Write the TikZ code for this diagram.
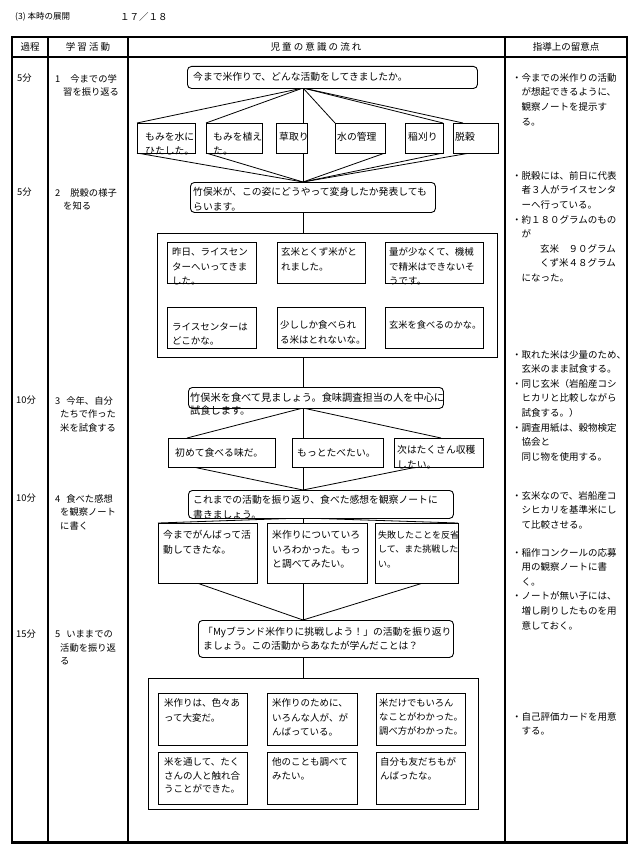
\documentclass[tikz,border=0pt]{standalone}
\usepackage{fontspec}
\setmainfont{Noto Sans CJK JP}
\usetikzlibrary{calc}
\tikzset{
  bx/.style={draw, line width=0.9pt, fill=white, inner sep=0pt, anchor=north west},
  rbx/.style={bx, rounded corners=4pt},
  grp/.style={draw, line width=1pt, inner sep=0pt, anchor=north west},
  tx/.style={anchor=north west, inner sep=0pt, align=left, font=\fontsize{9.8}{14.5}\selectfont},
  gtx/.style={tx, font=\fontsize{9.5}{14.5}\selectfont},
  ltx/.style={anchor=north west, inner sep=0pt, align=left, font=\fontsize{9.3}{13.5}\selectfont},
  rtx/.style={anchor=north west, inner sep=0pt, align=left, font=\fontsize{9.5}{14.6}\selectfont},
  htx/.style={inner sep=0pt, font=\fontsize{9.5}{12}\selectfont},
  ln/.style={line width=0.8pt},
  rule/.style={line width=1.3pt},
}
\newcommand\Bx[6][]{\node[bx,#1,minimum width={(#5-#3)*1pt},minimum height={(#6-#4)*1pt}] (#2) at (#3,#4) {};}
\newcommand\Gx[5]{\node[grp,minimum width={(#4-#2)*1pt},minimum height={(#5-#3)*1pt}] (#1) at (#2,#3) {};}
\newcommand\ind{\hspace{9.5pt}}
\begin{document}
\begin{tikzpicture}[x=1pt,y=-1pt]
\useasboundingbox (0,0) rectangle (640,851);
\fill[white] (0,0) rectangle (640,851);
% title
\node[htx, anchor=west, font=\fontsize{8.5}{10}\selectfont] (title) at (15,17) {(3) 本時の展開};
\node[htx, anchor=west] (page) at (120,17) {１７／１８};
% table
\draw[line width=1.6pt] (12,37) rectangle (627,842);
\draw[rule] (12,57) -- (627,57);
\draw[rule] (48,37) -- (48,842);
\draw[rule] (128,37) -- (128,842);
\draw[rule] (505,37) -- (505,842);
\draw[line width=3pt] (11,842) -- (628,842);
\node[htx] (h1) at (30,47) {過程};
\node[htx] (h2) at (88,47) {学\ 習\ 活\ 動};
\node[htx] (h3) at (316,47) {児\ 童\ の\ 意\ 識\ の\ 流\ れ};
\node[htx] (h4) at (566,47) {指導上の留意点};
% left columns
\node[ltx] (t1) at (17,74) {5分};
\node[ltx] (l1) at (55,74) {1\hspace{10pt}今までの学\\\hspace{8pt}習を振り返る};
\node[ltx] (t2) at (17,188) {5分};
\node[ltx] (l2) at (55,188) {2\hspace{10pt}脱穀の様子\\\hspace{8pt}を知る};
\node[ltx] (t3) at (16,396) {10分};
\node[ltx] (l3) at (55,396) {3\hspace{6pt}今年、自分\\\hspace{5pt}たちで作った\\\hspace{5pt}米を試食する};
\node[ltx] (t4) at (16,494) {10分};
\node[ltx] (l4) at (55,494) {4\hspace{6pt}食べた感想\\\hspace{5pt}を観察ノート\\\hspace{5pt}に書く};
\node[ltx] (t5) at (16,630) {15分};
\node[ltx] (l5) at (55,630) {5\hspace{6pt}いままでの\\\hspace{5pt}活動を振り返\\\hspace{5pt}る};
% right column
\node[rtx] (r1) at (512,73) {・今までの米作りの活動\\\ind が想起できるように、\\\ind 観察ノートを提示す\\\ind る。};
\node[rtx] (r2) at (512,171) {・脱穀には、前日に代表\\\ind 者３人がライスセンタ\\\ind ーへ行っている。\\・約１８０グラムのもの\\\ind が\\\hspace{28pt}玄米\ind ９０グラム\\\hspace{28pt}くず米４８グラム\\\ind になった。};
\node[rtx] (r3) at (512,350) {・取れた米は少量のため、\\\ind 玄米のまま試食する。\\・同じ玄米（岩船産コシ\\\ind ヒカリと比較しながら\\\ind 試食する。）\\・調査用紙は、穀物検定\\\ind 協会と\\\ind 同じ物を使用する。};
\node[rtx] (r4) at (512,491) {・玄米なので、岩船産コ\\\ind シヒカリを基準米にし\\\ind て比較させる。};
\node[rtx] (r5) at (512,548) {・稲作コンクールの応募\\\ind 用の観察ノートに書\\\ind く。\\・ノートが無い子には、\\\ind 増し刷りしたものを用\\\ind 意しておく。};
\node[rtx] (r6) at (512,712) {・自己評価カードを用意\\\ind する。};
% coordinates for connectors
\coordinate (apA) at (303,88);
\coordinate (apB) at (303,182);
\coordinate (apBs) at (303,212);
\coordinate (apG1n) at (303,233);
\coordinate (apG1s) at (303,357);
\coordinate (apC) at (303,387);
\coordinate (apCs) at (303,408);
\coordinate (apD) at (303,490);
\coordinate (apDs) at (303,518);
\coordinate (apE) at (303,620);
\coordinate (apEs) at (303,657);
\coordinate (apG2n) at (303,678);
% fan lines A -> six boxes -> B
\coordinate (f1) at (137,123); \coordinate (f2) at (206,123);
\coordinate (f4) at (335,123); \coordinate (f5) at (443,123); \coordinate (f6) at (463,123);
\coordinate (g1) at (137,153); \coordinate (g2) at (206,153);
\coordinate (g4) at (385,153); \coordinate (g5) at (443,153); \coordinate (g6) at (470,153);
\foreach \p in {f1,f2,f4,f5,f6} \draw[ln] (apA) -- (\p);
\foreach \p in {g1,g2,g4,g5,g6} \draw[ln] (\p) -- (apB);
\draw[ln] (apA) -- (apB);
\draw[ln] (apBs) -- (apG1n);
\draw[ln] (apG1s) -- (apC);
\coordinate (k1) at (187,438); \coordinate (k3) at (441,438);
\coordinate (m1) at (193,467); \coordinate (m3) at (417,467);
\draw[ln] (apCs) -- (k1); \draw[ln] (apCs) -- (k3);
\draw[ln] (m1) -- (apD); \draw[ln] (m3) -- (apD);
\draw[ln] (apCs) -- (apD);
\coordinate (n1) at (158,523); \coordinate (n3) at (458,523);
\coordinate (o1) at (197,583); \coordinate (o3) at (423,583);
\draw[ln] (apDs) -- (n1); \draw[ln] (apDs) -- (n3);
\draw[ln] (o1) -- (apE); \draw[ln] (o3) -- (apE);
\draw[ln] (apDs) -- (apE);
\draw[ln] (apEs) -- (apG2n);
% box A
\Bx[rbx]{A}{187}{66}{477}{88}
\node[tx] (At) at (193,72.5) {今まで米作りで、どんな活動をしてきましたか。};
% six boxes
\Bx{b1}{137}{123}{195}{153}
\Bx{b2}{206}{123}{262}{153}
\Bx{b3}{276}{123}{307}{153}
\Bx{b4}{335}{123}{385}{153}
\Bx{b5}{405}{123}{443}{153}
\Bx{b6}{453}{123}{498}{153}
\node[tx, font=\fontsize{9.8}{13.5}\selectfont] (b1t) at (145,132.5) {もみを水に\\ひたした。};
\node[tx, font=\fontsize{9.8}{13.5}\selectfont] (b2t) at (213,132.5) {もみを植え\\た。};
\node[tx] (b3t) at (279,132.5) {草取り};
\node[tx] (b4t) at (337,132.5) {水の管理};
\node[tx] (b5t) at (408,132.5) {稲刈り};
\node[tx] (b6t) at (455,132.5) {脱穀};
% box B
\Bx[rbx]{B}{190}{182}{435}{212}
\node[tx] (Bt) at (193,187.5) {竹俣米が、この姿にどうやって変身したか発表しても\\らいます。};
% group 1
\Gx{G1}{157}{233}{497}{357}
\Bx{g11}{167}{242}{256}{283}
\Bx{g12}{277}{242}{365}{283}
\Bx{g13}{385}{242}{483}{283}
\Bx{g14}{167}{307}{256}{348}
\Bx{g15}{277}{307}{365}{348}
\Bx{g16}{385}{307}{483}{348}
\node[gtx] (g11t) at (172,247.5) {昨日、ライスセン\\ターへいってきま\\した。};
\node[gtx] (g12t) at (281,247.5) {玄米とくず米がと\\れました。};
\node[gtx] (g13t) at (389,247.5) {量が少なくて、機械\\で精米はできないそ\\うです。};
\node[gtx] (g14t) at (172,322.5) {ライスセンターは\\どこかな。};
\node[gtx] (g15t) at (280,320.5) {少ししか食べられ\\る米はとれないな。};
\node[gtx, font=\fontsize{9.2}{14}\selectfont] (g16t) at (389,320.5) {玄米を食べるのかな。};
% box C
\Bx[rbx]{C}{188}{387}{443}{408}
\node[tx, font=\fontsize{10.2}{13.5}\selectfont] (Ct) at (190,392.5) {竹俣米を食べて見ましょう。食味調査担当の人を中心に\\試食します。};
\Bx{c1}{168}{438}{275}{467}
\Bx{c2}{292}{438}{383}{467}
\Bx{c3}{394}{438}{483}{467}
\node[tx] (c1t) at (175,448.5) {初めて食べる味だ。};
\node[tx] (c2t) at (297,448.5) {もっとたべたい。};
\node[tx] (c3t) at (397,445.5) {次はたくさん収穫\\したい。};
% box D
\Bx[rbx]{D}{188}{490}{453}{518}
\node[tx] (Dt) at (193,495.5) {これまでの活動を振り返り、食べた感想を観察ノートに\\書きましょう。};
\Bx{d1}{158}{523}{257}{583}
\Bx{d2}{267}{523}{367}{583}
\Bx{d3}{375}{523}{458}{583}
\node[tx] (d1t) at (163,530.5) {今までがんばって活\\動してきたな。};
\node[tx] (d2t) at (272,530.5) {米作りについていろ\\いろわかった。もっ\\と調べてみたい。};
\node[tx, font=\fontsize{9}{14.5}\selectfont] (d3t) at (378,530.5) {失敗したことを反省\\して、また挑戦した\\い。};
% box E
\Bx[rbx]{E}{198}{620}{453}{657}
\node[tx] (Et) at (203,626.5) {「Myブランド米作りに挑戦しよう！」の活動を振り返り\\ましょう。この活動からあなたが学んだことは？};
% group 2
\Gx{G2}{148}{678}{478}{809}
\Bx{h21}{158}{693}{247}{745}
\Bx{h22}{267}{693}{357}{745}
\Bx{h23}{376}{693}{465}{745}
\Bx{h24}{158}{752}{247}{804}
\Bx{h25}{267}{752}{357}{804}
\Bx{h26}{376}{752}{465}{804}
\node[gtx] (h21t) at (164,698.5) {米作りは、色々あ\\って大変だ。};
\node[gtx] (h22t) at (272,698.5) {米作りのために、\\いろんな人が、が\\んばっている。};
\node[gtx, font=\fontsize{9.3}{14}\selectfont] (h23t) at (379,698.5) {米だけでもいろん\\なことがわかった。\\調べ方がわかった。};
\node[gtx, font=\fontsize{9.5}{13.5}\selectfont] (h24t) at (164,757.5) {米を通して、たく\\さんの人と触れ合\\うことができた。};
\node[gtx, font=\fontsize{9.5}{13.5}\selectfont] (h25t) at (272,757.5) {他のことも調べて\\みたい。};
\node[gtx, font=\fontsize{9.5}{13.5}\selectfont] (h26t) at (380,757.5) {自分も友だちもが\\んばったな。};
\end{tikzpicture}
\end{document}
